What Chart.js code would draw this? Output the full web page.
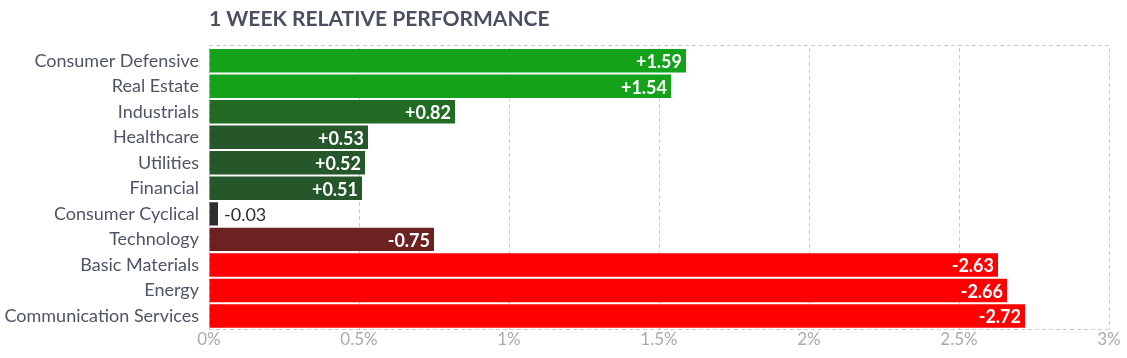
<!DOCTYPE html>
<html>
<head>
<meta charset="utf-8">
<script src="https://cdn.jsdelivr.net/npm/chart.js@4"></script>
<style>
  html, body { margin: 0; padding: 0; background: #fff; }
  #wrap { position: relative; width: 1127px; height: 358px; }
</style>
</head>
<body>
<div id="wrap"><canvas id="c" width="1127" height="358"></canvas></div>
<script>
const TITLE = '1 WEEK RELATIVE PERFORMANCE';
const categories = ['Consumer Defensive', 'Real Estate', 'Industrials', 'Healthcare', 'Utilities', 'Financial', 'Consumer Cyclical', 'Technology', 'Basic Materials', 'Energy', 'Communication Services'];
const values = [1.59, 1.54, 0.82, 0.53, 0.52, 0.51, -0.03, -0.75, -2.63, -2.66, -2.72];
const barColors = ['#13a21a', '#13a21a', '#226b25', '#25572a', '#25572a', '#25572a', '#302b2d', '#6d2222', '#ff0000', '#ff0000', '#ff0000'];
const xTicks = [0, 0.5, 1, 1.5, 2, 2.5, 3];

const FONT = 'Lato, "Open Sans", sans-serif';

const extras = {
  id: 'extras',
  beforeDatasetsDraw(chart) {
    const {ctx, chartArea: a} = chart;
    ctx.save();
    ctx.strokeStyle = '#cccccc';
    ctx.lineWidth = 1;
    ctx.setLineDash([4, 3]);
    ctx.beginPath();
    ctx.moveTo(a.left, Math.round(a.top) - 2.5);
    ctx.lineTo(a.right, Math.round(a.top) - 2.5);
    ctx.moveTo(a.left, Math.round(a.bottom) + 0.5);
    ctx.lineTo(a.right, Math.round(a.bottom) + 0.5);
    ctx.stroke();
    ctx.restore();
  },
  afterDatasetsDraw(chart) {
    const {ctx, chartArea: a} = chart;
    ctx.save();
    // title
    ctx.font = 'bold 21px ' + FONT;
    ctx.fillStyle = '#4a5062';
    ctx.textAlign = 'left';
    ctx.textBaseline = 'middle';
    ctx.fillText(TITLE, a.left, 19);
    // value labels
    const meta = chart.getDatasetMeta(0);
    meta.data.forEach((bar, i) => {
      const v = values[i];
      const txt = (v > 0 ? '+' : '') + v.toFixed(2);
      ctx.font = 'bold 18px ' + FONT;
      const w = ctx.measureText(txt).width;
      const barW = bar.x - bar.base;
      if (barW > w + 8) {
        ctx.fillStyle = '#ffffff';
        ctx.textAlign = 'right';
        ctx.fillText(txt, bar.x - 4, bar.y + 1.5);
      } else {
        ctx.font = '18px ' + FONT;
        ctx.fillStyle = '#2e2e2e';
        ctx.textAlign = 'left';
        ctx.fillText(txt, bar.x + 6, bar.y + 1.5);
      }
    });
    ctx.restore();
  }
};

new Chart(document.getElementById('c'), {
  type: 'bar',
  data: {
    labels: categories,
    datasets: [{
      data: values.map(v => Math.abs(v)),
      backgroundColor: barColors,
      borderWidth: 0,
      categoryPercentage: 1,
      barPercentage: 0.92
    }]
  },
  options: {
    indexAxis: 'y',
    responsive: false,
    animation: false,
    devicePixelRatio: 1,
    layout: { padding: { top: 48, right: 18, bottom: 0, left: 0 } },
    plugins: { legend: { display: false }, tooltip: { enabled: false }, title: { display: false } },
    scales: {
      x: {
        type: 'linear',
        min: 0,
        max: 3,
        afterBuildTicks: s => { s.ticks = xTicks.map(v => ({ value: v })); },
        afterFit: s => { s.height = 29.3; },
        grid: { color: '#cccccc', drawTicks: false, lineWidth: 1 },
        border: { display: false, dash: [4, 3] },
        ticks: {
          padding: 1,
          color: '#a9a9b1',
          font: { family: FONT, size: 17 },
          callback: v => v + '%'
        }
      },
      y: {
        afterFit: s => { s.width = 209; },
        grid: { display: false, drawTicks: false },
        border: { display: false },
        ticks: {
          padding: 10,
          color: '#4f5568',
          font: { family: FONT, size: 18 }
        }
      }
    }
  },
  plugins: [extras]
});
</script>
</body>
</html>
